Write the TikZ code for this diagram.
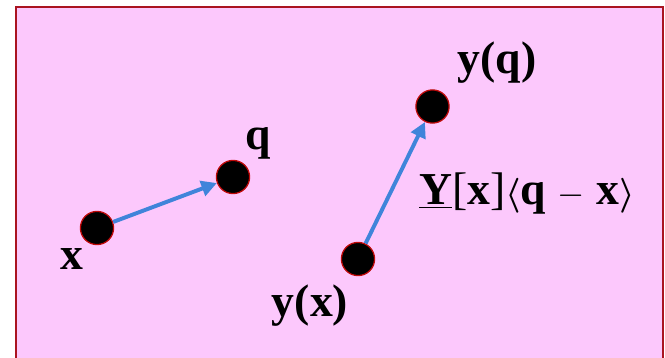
\documentclass[tikz,border=0pt]{standalone}
\usepackage{fontspec}
\setmainfont{Liberation Serif}
\definecolor{panelpink}{RGB}{252, 200, 252}
\definecolor{paneledge}{RGB}{170, 20, 32}
\definecolor{dotedge}{RGB}{190, 10, 10}
\definecolor{arrowblue}{RGB}{64, 132, 218}
\usetikzlibrary{arrows.meta, positioning}
\tikzset{
	dot/.style={circle, fill=black, draw=dotedge, line width=0.9pt, minimum size=0.83cm, inner sep=0pt},
	lbl/.style={anchor=base, inner sep=0pt, font=\bfseries\fontsize{32.5}{38}\selectfont},
	arrow/.style={-{Triangle[length=11pt, width=11pt]}, line width=2.8pt, draw=arrowblue},
	panel/.style={fill=panelpink, draw=paneledge, line width=1.4pt},
}

\begin{document}
\begin{tikzpicture}
		\fill[white] (0,0) rectangle (16.625,8.95);
		\useasboundingbox (0,0) rectangle (16.625,8.95);
		\draw[panel] (0.4,-0.3) rectangle (16.575,8.775);
		\node[dot] (x) at (2.425,3.25) {};
		\node[dot] (q) at (5.825,4.525) {};
		\node[dot] (yx) at (8.95,2.475) {};
		\node[dot] (yq) at (10.8125,6.2875) {};
		\node[lbl] (xlbl) at (1.8,2.2) {x};
		\node[lbl] (qlbl) at (6.45,5.2) {q};
		\node[lbl] (yxlbl) at (7.75,1.025) {y(x)};
		\node[lbl] (yqlbl) at (12.425,7.1) {y(q)};
		\node[lbl] (maplbl) at (13.175,3.825) {\underline{Y}{\mdseries[}x{\mdseries]}{\boldmath$\langle$}q $-$ x{\boldmath$\rangle$}};
		\draw[arrow] (x) -- (q);
		\draw[arrow] (yx) -- (yq);
	\end{tikzpicture}
\end{document}
